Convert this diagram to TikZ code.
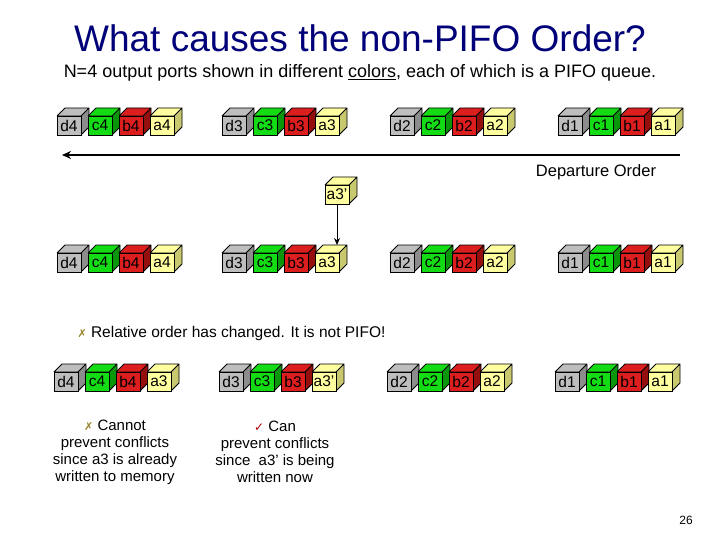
\documentclass[tikz,border=0pt]{standalone}
\usepackage{fontspec}
\setmainfont{Liberation Sans}
\newfontfamily\dejavu{DejaVu Sans}
\usetikzlibrary{arrows.meta}
\definecolor{cg}{RGB}{190,190,190}\definecolor{cgd}{RGB}{140,140,140}
\definecolor{cn}{RGB}{20,220,20}\definecolor{cnd}{RGB}{10,150,10}
\definecolor{cr}{RGB}{220,30,30}\definecolor{crd}{RGB}{150,15,15}
\definecolor{cy}{RGB}{255,255,160}\definecolor{cyd}{RGB}{200,200,110}
\definecolor{olive}{RGB}{150,130,40}\definecolor{ttl}{RGB}{0,0,120}
\newcommand\mycube[5]{%
  \fill[#4] (#2,#3) -- (#2+8,#3-8) -- (#2+32,#3-8) -- (#2+24,#3) -- cycle;
  \fill[#4d] (#2+24,#3) -- (#2+32,#3-8) -- (#2+32,#3+11) -- (#2+24,#3+19) -- cycle;
  \draw[thick] (#2,#3) -- (#2+8,#3-8) -- (#2+32,#3-8) -- (#2+32,#3+11) -- (#2+24,#3+19) (#2+24,#3) -- (#2+32,#3-8) (#2+24,#3) -- (#2,#3);
  \node[face,fill=#4] (#1) at (#2+12,#3+9.5) {#5};}
\tikzset{face/.style={draw,thick,minimum width=24pt,minimum height=19pt,inner sep=0pt,font=\fontsize{15.5}{15}\selectfont},
 captext/.style={font=\fontsize{15}{17}\selectfont,align=center}}
\begin{document}
\begin{tikzpicture}[x=1pt,y=-1pt]
\useasboundingbox (0,0) rectangle (720,540);
\node[text=ttl,font=\fontsize{37}{40}\selectfont] (title) at (360,38) {What causes the non-PIFO Order?};
\node[font=\fontsize{18}{20}\selectfont] (sub) at (360,73) {N=4 output ports shown in different \underline{colors}, each of which is a PIFO queue.};
\foreach \r/\y/\dx in {1/116/0,2/253/0,3/372/-3}{
 \foreach \g/\gx/\n in {1/57/4,2/222/3,3/390/2,4/558/1}{
  \mycube{r\r g\g d}{\gx+\dx}{\y}{cg}{d\n}
  \mycube{r\r g\g c}{\gx+\dx+31}{\y}{cn}{c\n}
  \mycube{r\r g\g b}{\gx+\dx+62}{\y}{cr}{b\n}
 }}
\foreach \r/\y in {1/116,2/253}{
 \foreach \g/\gx/\n in {1/57/4,2/222/3,3/390/2,4/558/1}{
  \mycube{r\r g\g a}{\gx+93}{\y}{cy}{a\n}}}
\mycube{r3g1a}{147}{372}{cy}{a3}
\mycube{r3g2a}{312}{372}{cy}{a3'}
\mycube{r3g3a}{480}{372}{cy}{a2}
\mycube{r3g4a}{648}{372}{cy}{a1}
\mycube{ap}{325}{185}{cy}{a3'}
\coordinate (hs) at (680,155); \coordinate (he) at (62,155);
\draw[line width=2pt,-{Stealth[length=9pt,width=8pt]}] (hs) -- (he);
\coordinate (tip) at (337,245);
\draw[thick,-{Stealth[length=7pt,width=6pt]}] (ap.south) -- (tip);
\node[font=\fontsize{16.5}{18}\selectfont] (dep) at (596,172) {Departure Order};
\node[font=\fontsize{15.5}{18}\selectfont,anchor=west] (rel) at (74,333) {{\dejavu\color{olive}\fontsize{11}{11}\selectfont ✗} Relative order has changed. It is not PIFO!};
\node[captext] (c1) at (115,452) {{\dejavu\color{olive}\fontsize{11}{11}\selectfont ✗} Cannot\\prevent conflicts\\since a3 is already\\written to memory};
\node[captext] (c2) at (275,452) {{\dejavu\color{red!70!black}\fontsize{12}{12}\selectfont ✓} Can\\prevent conflicts\\since\ \ a3’ is being\\written now};
\node[font=\fontsize{12}{14}\selectfont] (pg) at (686,520) {26};
\end{tikzpicture}
\end{document}
